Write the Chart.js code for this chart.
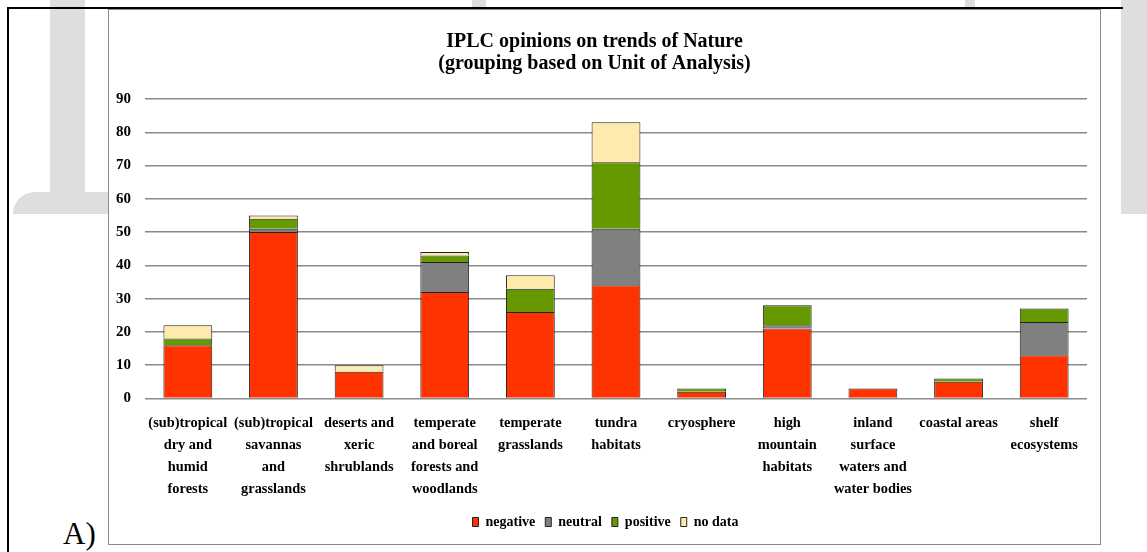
<!DOCTYPE html>
<html>
<head>
<meta charset="utf-8">
<script src="https://cdn.jsdelivr.net/npm/chart.js@4"></script>
<style>
    body { margin: 0; background: #fff; width: 1147px; height: 552px; overflow: hidden; position: relative; }
    .wm { position: absolute; background: #dedede; }
    #frame { position: absolute; left: 7px; top: 7px; width: 1114px; height: 560px; border-left: 2px solid #000; border-top: 2px solid #000; }
    #box { position: absolute; left: 108px; top: 9px; width: 991px; height: 534px; border: 1px solid #8a8a8a; background: #fff; overflow: hidden; }
    #chart { position: absolute; left: -7px; top: 0; }
    #tag { position: absolute; left: 63px; top: 516px; font: 31px "Liberation Serif", serif; color: #000; }
</style>
</head>
<body>
<!-- faint watermark pieces behind the figure -->
<div class="wm" style="left:50px;top:0;width:35px;height:214px"></div>
<div class="wm" style="left:13px;top:192px;width:95px;height:22px;border-radius:30px 0 0 0"></div>
<div class="wm" style="left:1121px;top:0;width:26px;height:214px"></div>
<div class="wm" style="left:965px;top:0;width:10px;height:8px"></div>
<div class="wm" style="left:472px;top:0;width:14px;height:8px"></div>
<div id="frame"></div>
<div id="box"><canvas id="chart" width="998" height="534"></canvas></div>
<div id="tag">A)</div>
<script>
// categories (unit of analysis)
const categories = [
    ['(sub)tropical', 'dry and', 'humid', 'forests'],
    ['(sub)tropical', 'savannas', 'and', 'grasslands'],
    ['deserts and', 'xeric', 'shrublands'],
    ['temperate', 'and boreal', 'forests and', 'woodlands'],
    ['temperate', 'grasslands'],
    ['tundra', 'habitats'],
    ['cryosphere'],
    ['high', 'mountain', 'habitats'],
    ['inland', 'surface', 'waters and', 'water bodies'],
    ['coastal areas'],
    ['shelf', 'ecosystems']
];

// counts per opinion
const negative = [16, 50, 8, 32, 26, 34, 2, 21, 3, 5, 13];
const neutral  = [0, 1, 0, 9, 0, 17, 0, 1, 0, 0, 10];
const positive = [2, 3, 0, 2, 7, 20, 1, 6, 0, 1, 4];
const noData   = [4, 1, 2, 1, 4, 12, 0, 0, 0, 0, 0];

const yTicks = [0, 10, 20, 30, 40, 50, 60, 70, 80, 90];

const serif = '"Liberation Serif", "Times New Roman", serif';

function series(label, data, color) {
    return {
        label: label,
        data: data,
        backgroundColor: color,
        borderColor: '#222',
        borderWidth: 1,
        categoryPercentage: 0.57,
        barPercentage: 1
    };
}

// legend sits a little right of centre in the original
const shiftLegend = {
    id: 'shiftLegend',
    afterLayout(chart) {
        chart.legend.left += 11;
        chart.legend.right += 11;
    }
};

new Chart(document.getElementById('chart'), {
    type: 'bar',
    data: {
        labels: categories,
        datasets: [
            series('negative', negative, '#ff3300'),
            series('neutral', neutral, '#808080'),
            series('positive', positive, '#669900'),
            series('no data', noData, '#ffeaae')
        ]
    },
    plugins: [shiftLegend],
    options: {
        responsive: false,
        animation: false,
        layout: { padding: { left: 0, right: 13, top: 0, bottom: 5 } },
        plugins: {
            title: {
                display: true,
                text: ['IPLC opinions on trends of Nature', '(grouping based on Unit of Analysis)'],
                color: '#000',
                font: { family: serif, size: 20, weight: 'bold', lineHeight: 1.1 },
                padding: { top: 21, bottom: 24 }
            },
            legend: {
                position: 'bottom',
                labels: {
                    color: '#000',
                    font: { family: serif, size: 14, weight: 'bold' },
                    boxWidth: 6,
                    boxHeight: 9,
                    padding: 10
                }
            },
            tooltip: { enabled: false }
        },
        scales: {
            x: {
                stacked: true,
                grid: { display: false, drawTicks: false },
                border: { display: false },
                afterFit: scale => { scale.height -= 9; },
                ticks: {
                    color: '#000',
                    font: { family: serif, size: 14.4, weight: 'bold', lineHeight: 1.52 },
                    padding: 14,
                    autoSkip: false,
                    maxRotation: 0,
                    minRotation: 0
                }
            },
            y: {
                stacked: true,
                min: 0,
                max: 90,
                afterBuildTicks: axis => { axis.ticks = yTicks.map(v => ({ value: v })); },
                grid: { color: '#8a8a8a', lineWidth: 1.5, drawTicks: false },
                border: { display: false },
                ticks: {
                    color: '#000',
                    font: { family: serif, size: 15, weight: 'bold' },
                    padding: 14
                }
            }
        }
    }
});
</script>
</body>
</html>
